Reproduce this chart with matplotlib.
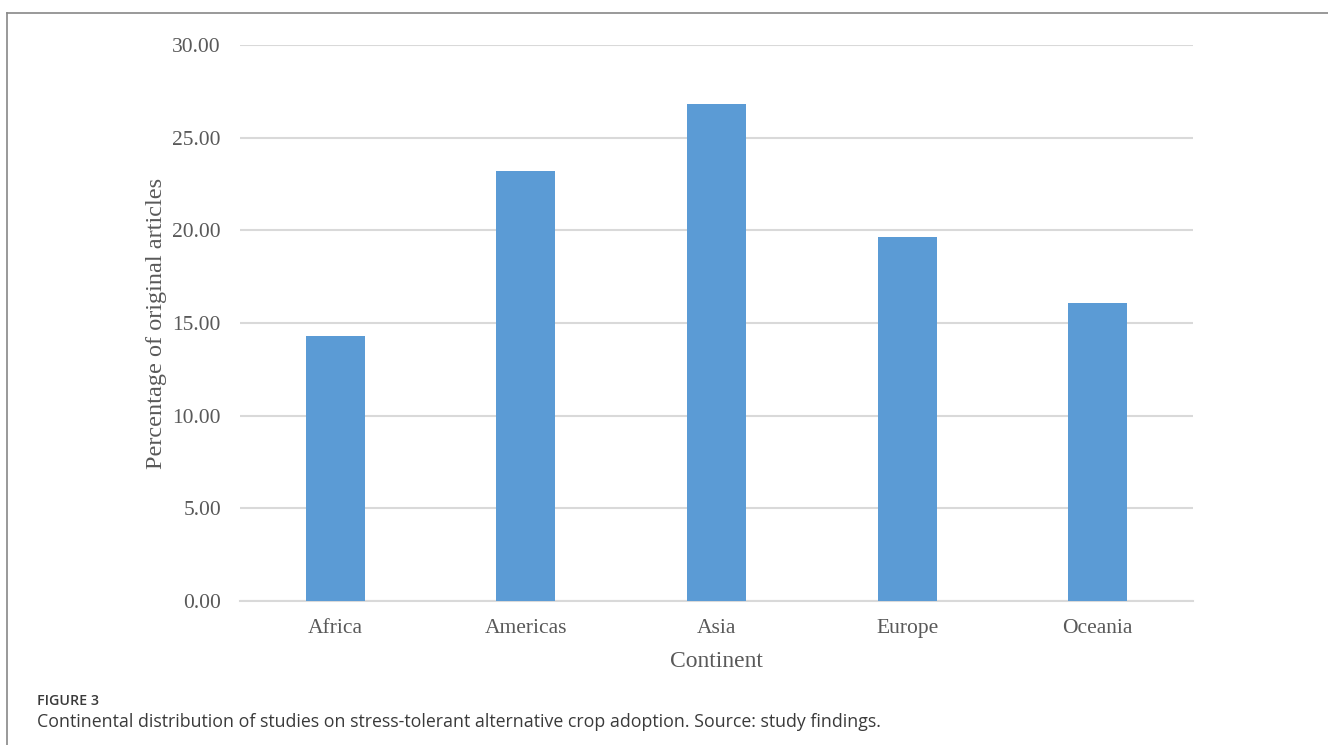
import matplotlib.pyplot as plt
from matplotlib.lines import Line2D

# article shares by continent (%)
continents = ['Africa', 'Americas', 'Asia', 'Europe', 'Oceania']
share = [14.29, 23.21, 26.79, 19.64, 16.07]
yticks = [0, 5, 10, 15, 20, 25, 30]

bar_color = '#5b9bd5'
grid_color = '#d9d9d9'
text_color = '#595959'
W, H = 1328, 745

fig = plt.figure(figsize=(W / 100, H / 100), dpi=100)
ax = fig.add_axes([240 / W, 1 - 601 / H, (1193 - 240) / W, (601 - 45) / H])

x = range(len(continents))
ax.bar(x, share, width=0.31, color=bar_color, zorder=3)
ax.set_xlim(-0.5, len(continents) - 0.5)
ax.set_ylim(0, 30)
ax.set_yticks(yticks)
ax.set_yticklabels(['%.2f' % v for v in yticks])
ax.set_xticks(list(x))
ax.set_xticklabels(continents)
ax.yaxis.grid(True, color=grid_color, linewidth=1.5, zorder=0)
for s in ['top', 'right', 'left']:
    ax.spines[s].set_visible(False)
ax.spines['bottom'].set_color(grid_color)
ax.spines['bottom'].set_linewidth(1.5)
ax.tick_params(length=0, labelsize=15.5, labelcolor=text_color)
ax.tick_params(axis='y', pad=13.7)
ax.tick_params(axis='x', pad=13)
for lab in ax.get_xticklabels() + ax.get_yticklabels():
    lab.set_family('Liberation Serif')

ax.set_xlabel('Continent', family='Liberation Serif', fontsize=17,
              color=text_color, labelpad=9)
ax.set_ylabel('Percentage of original articles', family='Liberation Serif',
              fontsize=17.5, color=text_color, labelpad=4)

# open frame round the figure panel
fig.add_artist(Line2D([7 / W, 1], [1 - 13 / H] * 2, color='#888888', lw=1.2))
fig.add_artist(Line2D([7 / W] * 2, [0, 1 - 13 / H], color='#888888', lw=1.2))

fig.text(37 / W, 1 - 701 / H, 'FIGURE 3', family='Open Sans', fontsize=10.3,
         color='#3a3a3a', va='center', weight='semibold')
fig.text(37 / W, 1 - 722 / H,
         'Continental distribution of studies on stress-tolerant alternative crop adoption. Source: study findings.',
         family='Open Sans', fontsize=12.8, color='#3a3a3a', va='center')

fig.savefig('out.png', dpi=100)
